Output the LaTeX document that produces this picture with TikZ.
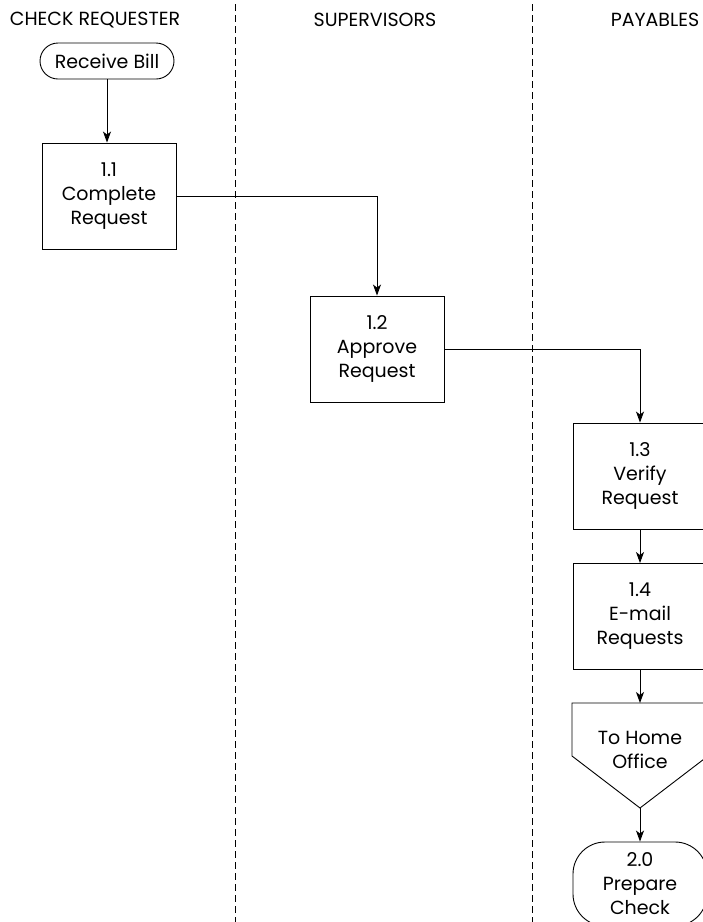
\documentclass[tikz,border=0pt]{standalone}
\usepackage{fontspec}
\setmainfont{Poppins}
\usetikzlibrary{arrows.meta,shapes.misc}
\begin{document}
\begin{tikzpicture}[x=1pt,y=-1pt,
  txt/.style={font=\fontsize{19}{24}\selectfont,align=center,inner sep=0pt},
  procbox/.style={txt,draw,line width=0.9pt,minimum width=134pt,minimum height=106pt},
  startbox/.style={txt,draw,line width=0.9pt,rounded rectangle,minimum width=134pt,minimum height=36pt},
  termbox/.style={txt,draw,line width=0.9pt,rounded corners=32pt,minimum width=134pt,minimum height=84pt},
  lane/.style={dashed,dash pattern=on 7pt off 4pt,line width=0.8pt},
  arr/.style={line width=0.9pt,-{Stealth[length=11pt,width=8pt,inset=3pt]}},
  hdr/.style={font=\fontsize{19}{22}\selectfont,inner sep=0pt}
]
\useasboundingbox (0,0) rectangle (703,922);
\clip (0,0) rectangle (703,922);
% headers
\node[hdr] (h1) at (95,20) {CHECK REQUESTER};
\node[hdr] (h2) at (375,20) {SUPERVISORS};
\node[hdr] (h3) at (655,20) {PAYABLES};
% lanes
\draw[lane] (235,4) -- (235,922);
\draw[lane] (532,4) -- (532,922);
% nodes
\node[startbox] (rb) at (107,61) {Receive Bill};
\node[procbox] (c11) at (109,196) {1.1\\Complete\\Request};
\node[procbox] (c12) at (377,349) {1.2\\Approve\\Request};
\node[procbox] (c13) at (640,476) {1.3\\Verify\\Request};
\node[procbox] (c14) at (640,616.5) {1.4\\E-mail\\Requests};
\draw[line width=0.9pt] (572,703) -- (708,703) -- (708,756) -- (640,808) -- (572,756) -- cycle;
\coordinate (tohtop) at (640,703);
\coordinate (tohtip) at (640,808);
\node[txt] (toh) at (640,750) {To Home\\Office};
\node[termbox] (t20) at (640,884) {2.0\\Prepare\\Check};
% connectors
\draw[arr] (rb.south) -- (rb.south |- c11.north);
\draw[arr] (c11.east) -| (c12.north);
\draw[arr] (c12.east) -| (c13.north);
\draw[arr] (c13) -- (c14);
\draw[arr] (c14) -- (tohtop);
\draw[arr] (tohtip) -- (t20);
\end{tikzpicture}
\end{document}
